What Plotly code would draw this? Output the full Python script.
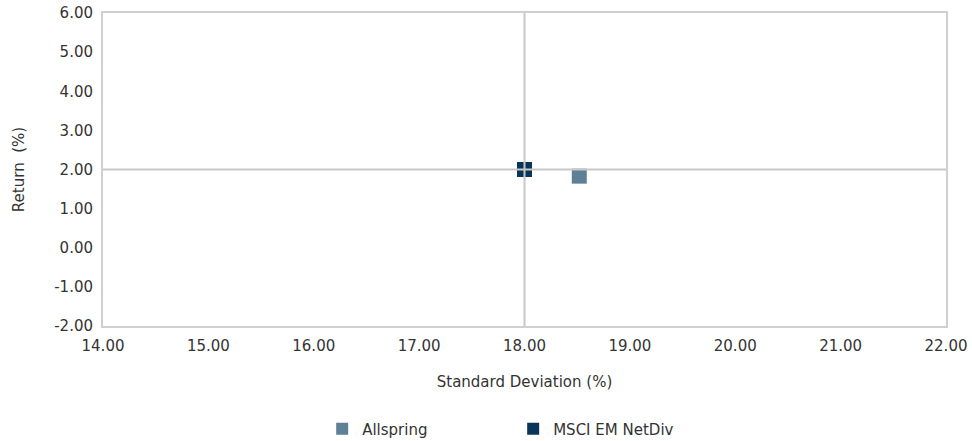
import plotly.graph_objects as go

series_names = ["Allspring", "MSCI EM NetDiv"]
std_dev = [18.52, 18.0]
returns = [1.83, 2.0]
colors = ["#5F8196", "#0B3558"]
x_ticks = [14, 15, 16, 17, 18, 19, 20, 21, 22]
y_ticks = [-2, -1, 0, 1, 2, 3, 4, 5, 6]
cross_x = 18.0
cross_y = 2.0

font_family = "'DejaVu Sans', sans-serif"
txt = "#333333"

fig = go.Figure()
for name, x, y, c in zip(series_names, std_dev, returns, colors):
    fig.add_trace(go.Scatter(
        x=[x], y=[y], mode="markers", name=name,
        marker=dict(symbol="square", size=15, color=c, line=dict(width=0)),
    ))

fig.add_shape(type="line", xref="x", yref="paper", x0=cross_x, x1=cross_x, y0=0, y1=1,
              line=dict(color="#C8C8C8", width=2), layer="above")
fig.add_shape(type="line", xref="paper", yref="y", x0=0, x1=1, y0=cross_y, y1=cross_y,
              line=dict(color="#C8C8C8", width=2), layer="above")

fig.update_layout(
    width=972, height=441,
    margin=dict(l=103, r=26, t=13, b=115, autoexpand=False),
    paper_bgcolor="white", plot_bgcolor="white",
    font=dict(family=font_family, size=15, color=txt),
    showlegend=True,
    legend=dict(orientation="h", x=0.26, xanchor="left", yref="container", y=0.027, yanchor="middle",
                font=dict(size=15, color=txt), entrywidth=146, itemsizing="constant",
                itemwidth=30),
    xaxis=dict(range=[14, 22], tickvals=x_ticks, ticktext=[f"{v:.2f}" for v in x_ticks],
               showgrid=False, zeroline=False, showline=True, linecolor="#D0D0D0", linewidth=2,
               mirror=True, ticks="", automargin=False, ticklabelstandoff=5,
               title=dict(text="Standard Deviation (%)", standoff=22, font=dict(size=15))),
    yaxis=dict(range=[-2, 6], tickvals=y_ticks, ticktext=[f"{v:.2f}" for v in y_ticks],
               showgrid=False, zeroline=False, showline=True, linecolor="#D0D0D0", linewidth=2,
               mirror=True, ticks="", automargin=False, ticklabelstandoff=5,
               title=dict(text="Return  (%)", standoff=26, font=dict(size=15))),
)

fig.write_html("out.html", config={"displayModeBar": False})
with open("out.html", "r", encoding="utf-8") as f:
    html = f.read()
html = html.replace("<body>", '<body style="margin:0;padding:0;">', 1)
with open("out.html", "w", encoding="utf-8") as f:
    f.write(html)
